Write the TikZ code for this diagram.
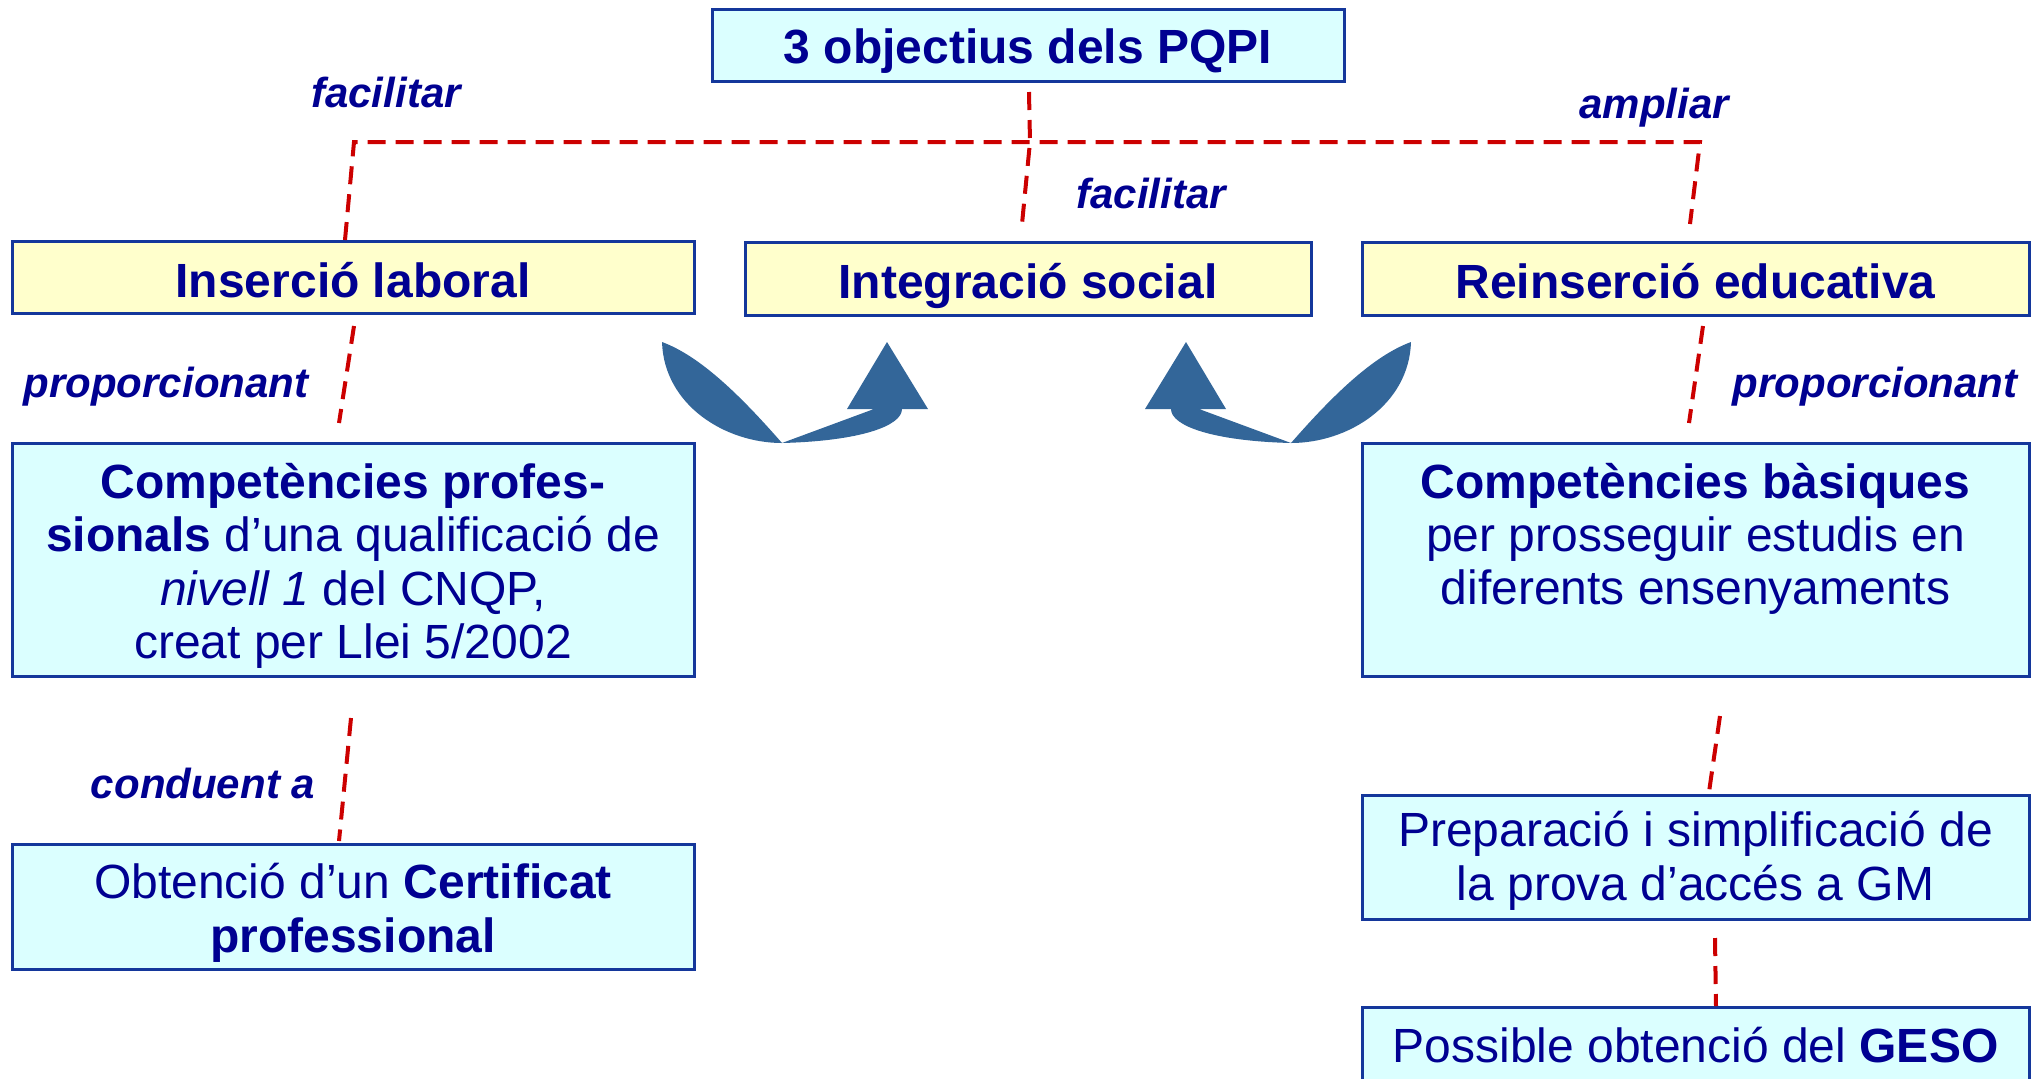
\documentclass[tikz,border=0pt]{standalone}
\usepackage{fontspec}
\setmainfont{Liberation Sans}
\definecolor{boxline}{RGB}{20,55,155}
\definecolor{cyanfill}{RGB}{219,255,255}
\definecolor{yellowfill}{RGB}{255,255,204}
\definecolor{navy}{RGB}{0,0,145}
\definecolor{dashred}{RGB}{204,0,0}
\definecolor{arrowfill}{RGB}{51,102,153}
\tikzset{
 box/.style={draw=boxline, line width=1.5pt, fill=cyanfill, text=navy, align=center, inner sep=0pt, font=\fontsize{24}{26.7}\selectfont},
 onebox/.style={box, text height=19.5pt, text depth=0pt},
 ybox/.style={onebox, fill=yellowfill, font=\bfseries\fontsize{24}{26.7}\selectfont},
 lbl/.style={text=navy, font=\bfseries\itshape\fontsize{21}{24}\selectfont, inner sep=0pt, anchor=base},
 conn/.style={draw=dashred, line width=2pt, dash pattern=on 9pt off 5pt},
 bigarrow/.style={fill=arrowfill, draw=none}
}
\begin{document}
\begin{tikzpicture}[x=0.5pt,y=-0.5pt]
\useasboundingbox (0,0) rectangle (2042,1078);
\clip (0,0) rectangle (2042,1078);
% boxes (multi-line text: reference point is the last baseline)
\node[onebox, text height=18pt, font=\bfseries\fontsize{24}{26.7}\selectfont, minimum width=316pt, minimum height=36pt] (title) at (1028,45) {3 objectius dels PQPI};
\node[ybox, minimum width=341pt, minimum height=36pt] (ins) at (353,277.5) {Inserció laboral};
\node[ybox, minimum width=283pt, minimum height=36.5pt] (integ) at (1028,278.5) {Integració social};
\node[ybox, minimum width=333.5pt, minimum height=36.5pt] (reins) at (1695.5,278.5) {Reinserció educativa};
\node[box, minimum width=341pt, minimum height=116.5pt, text height=99pt, text depth=0pt] (compP) at (353,559.5) {\textbf{Competències profes-}\\\textbf{sionals} d’una qualificació de\\\textit{nivell 1} del CNQP,\\creat per Llei 5/2002};
\node[box, minimum width=333.5pt, minimum height=116.5pt, text height=45.4pt, text depth=0pt] (compB) at (1695.5,559.5) {\textbf{Competències bàsiques}\\per prosseguir estudis en\\diferents ensenyaments};
\node[box, minimum width=341pt, minimum height=62.5pt, text height=45.5pt, text depth=0pt] (obt) at (353,906.5) {Obtenció d’un \textbf{Certificat}\\\textbf{professional}};
\node[box, minimum width=333.5pt, minimum height=62pt, text height=43pt, text depth=0pt] (prep) at (1695.5,857) {Preparació i simplificació de\\la prova d’accés a GM};
\node[onebox, text height=17pt, minimum width=333.5pt, minimum height=38pt] (poss) at (1695.5,1045) {Possible obtenció del \textbf{GESO}};
% labels (placed by baseline)
\node[lbl] (l1) at (386,107) {facilitar};
\node[lbl] (l2) at (1151,208) {facilitar};
\node[lbl] (l3) at (1654,118) {ampliar};
\node[lbl] (l4) at (166,397) {proporcionant};
\node[lbl] (l5) at (1875,397) {proporcionant};
\node[lbl] (l6) at (203,798) {conduent a};
% connector coordinates
\coordinate (hl) at (354,142);
\coordinate (hr) at (1700,142);
\coordinate (rend) at (1690,224);
\coordinate (m0) at (1029,92);
\coordinate (m1) at (1030,142);
\coordinate (m2) at (1022,224);
\coordinate (a1) at (354,326);
\coordinate (a2) at (339,423);
\coordinate (b1) at (351,718);
\coordinate (b2) at (339,841);
\coordinate (c1) at (1703,326);
\coordinate (c2) at (1689,423);
\coordinate (d1) at (1720,716);
\coordinate (d2) at (1709,792);
\coordinate (e1) at (1715,938);
\coordinate (e2) at (1716,1006);
\draw[conn] ([xshift=-4pt]ins.north) -- (hl) -- (hr) -- (rend);
\draw[conn] (m0) -- (m1) -- (m2);
\draw[conn] (a1) -- (a2);
\draw[conn] (b1) -- (b2);
\draw[conn] (c1) -- (c2);
\draw[conn] (d1) -- (d2);
\draw[conn] (e1) -- (e2);
% curved arrows
\fill[bigarrow] (662,342) .. controls (664,405) and (725,443) .. (782,443) .. controls (860,441) and (902,426) .. (902,409) -- (928,409) -- (887,342) -- (847,409) -- (874,409) -- (782,443) .. controls (740,395) and (700,356) .. (662,342) -- cycle;
\fill[bigarrow] (1411,342) .. controls (1409,405) and (1348,443) .. (1291,443) .. controls (1213,441) and (1171,426) .. (1171,409) -- (1145,409) -- (1186,342) -- (1226,409) -- (1199,409) -- (1291,443) .. controls (1333,395) and (1373,356) .. (1411,342) -- cycle;
\end{tikzpicture}
\end{document}
